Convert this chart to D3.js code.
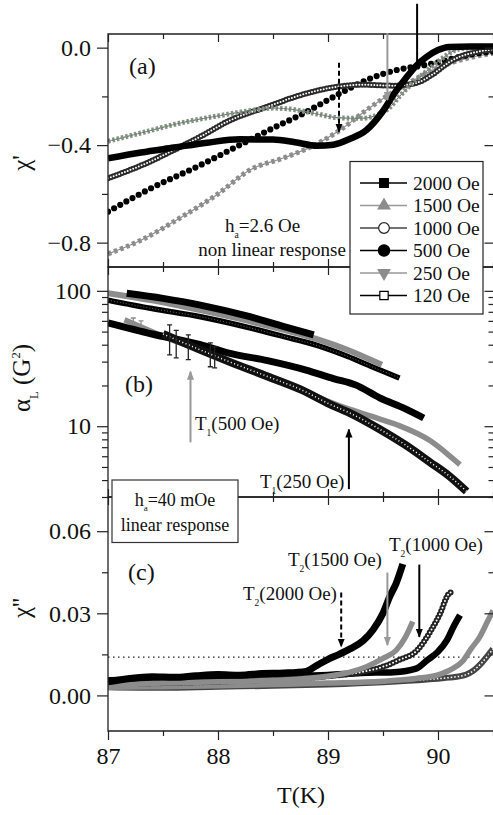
<!DOCTYPE html>
<html><head><meta charset="utf-8">
<script src="https://cdn.jsdelivr.net/npm/d3@7"></script>
<style>
body{margin:0;background:#fff}
svg{display:block}
text{font-family:"Liberation Serif","Times New Roman",serif;fill:#111}
</style>
</head><body>
<svg id="chart" width="493" height="815"></svg>
<script>
// ---------------- DATA ----------------
const fields = ["2000 Oe", "1500 Oe", "1000 Oe", "500 Oe", "250 Oe", "120 Oe"];
const xTicks = [87, 88, 89, 90];
const xMinor = [87.5, 88.5, 89.5, 90.5];
const aTicks = [0, -0.4, -0.8];
const aMinor = [-0.2, -0.6];
const bTicks = [10, 100];
const bMinor = [3, 4, 5, 6, 7, 8, 9, 20, 30, 40, 50, 60, 70, 80, 90];
const cTicks = [0, 0.03, 0.06];
const cMinor = [0.015, 0.045];

// Panel (a): chi' vs T
const aT2000 = [87, 87.3, 87.6, 87.9, 88.2, 88.5, 88.7, 88.9, 89.05, 89.2, 89.35, 89.5, 89.6, 89.7, 89.8, 89.9, 90.0, 90.1, 90.3, 90.5];
const aV2000 = [-0.454, -0.43, -0.41, -0.39, -0.376, -0.377, -0.388, -0.402, -0.398, -0.374, -0.338, -0.26, -0.19, -0.13, -0.075, -0.037, -0.01, 0.003, 0.005, 0.005];
const aT1500 = [87, 87.3, 87.65, 88.0, 88.3, 88.5, 88.7, 88.9, 89.1, 89.3, 89.45, 89.55, 89.65, 89.75, 89.9, 90.02, 90.2, 90.5];
const aV1500 = [-0.384, -0.35, -0.31, -0.28, -0.258, -0.248, -0.255, -0.272, -0.288, -0.29, -0.276, -0.25, -0.2, -0.153, -0.095, -0.05, -0.005, 0.003];
const aT1000 = [87, 87.35, 87.6, 87.84, 88.1, 88.45, 88.75, 89.05, 89.3, 89.6, 89.8, 89.95, 90.1, 90.2, 90.35, 90.5];
const aV1000 = [-0.536, -0.474, -0.42, -0.365, -0.3, -0.242, -0.195, -0.163, -0.152, -0.156, -0.145, -0.11, -0.06, -0.037, -0.018, -0.007];
const aT500 = [87, 87.4, 87.84, 88.23, 88.5, 88.75, 89.1, 89.35, 89.65, 89.84, 90.0, 90.14, 90.3, 90.5];
const aV500 = [-0.673, -0.575, -0.482, -0.392, -0.33, -0.276, -0.19, -0.133, -0.089, -0.075, -0.06, -0.044, -0.028, -0.016];
const aT250 = [87, 87.3, 87.65, 88.0, 88.29, 88.6, 88.85, 89.11, 89.35, 89.53, 89.78, 90.02, 90.26, 90.5];
const aV250 = [-0.846, -0.79, -0.70, -0.6, -0.502, -0.452, -0.406, -0.338, -0.256, -0.2, -0.133, -0.078, -0.044, -0.023];

// Panel (b): alpha_L (G^2) vs T, log scale
const bT2000 = [87.17, 87.5, 87.84, 88.29, 88.6, 88.87];
const bV2000 = [96, 88, 78.5, 64.4, 54.4, 47.2];
const bT1500 = [87, 87.4, 87.84, 88.2, 88.6, 88.9, 89.18, 89.49];
const bV1500 = [96, 85, 72, 62, 51.4, 44, 36.6, 28.4];
const bT1000 = [87, 87.4, 87.84, 88.2, 88.6, 88.9, 89.18, 89.4, 89.65];
const bV1000 = [85.4, 74, 64.4, 55.5, 45.9, 39.5, 32.7, 27.5, 22.7];
const bT500 = [87, 87.4, 87.84, 88.08, 88.45, 88.8, 89.05, 89.25, 89.47, 89.7, 89.87];
const bV500 = [58, 48, 40, 35, 30.5, 26, 22.5, 20.2, 16.2, 13.5, 11.5];
const bT250 = [87.15, 87.35, 87.53, 87.84, 88.2, 88.5, 88.8, 89.0, 89.2, 89.4, 89.62, 89.93, 90.1, 90.2];
const bV250 = [61, 52, 45, 36.5, 28, 23, 18, 15.3, 13.3, 11.8, 10.3, 7.8, 6.1, 5.2];
const bT120 = [87.5, 87.84, 88.1, 88.45, 88.75, 89.02, 89.2, 89.47, 89.7, 89.93, 90.1, 90.26];
const bV120 = [48, 36.6, 30, 23.3, 18.7, 14.5, 12.5, 9.5, 7.3, 5.4, 4.3, 3.3];
// error bars (b)
const bErrT120 = [87.56, 87.62, 87.73, 87.93, 87.97];
const bErrLo120 = [33.6, 32, 31, 27.5, 27];
const bErrHi120 = [56, 51, 47.3, 41.3, 38.5];
const bErrT250 = [87.23, 87.3];
const bErrLo250 = [51, 49];
const bErrHi250 = [63, 60];

// Panel (c): chi'' vs T
const cT2000 = [87, 87.2, 87.4, 87.6, 87.8, 88.0, 88.2, 88.4, 88.6, 88.8, 88.9, 89.0, 89.1, 89.2, 89.32, 89.41, 89.5, 89.56, 89.62, 89.68];
const cV2000 = [0.005, 0.0062, 0.0068, 0.0066, 0.0072, 0.0076, 0.0074, 0.008, 0.0082, 0.0088, 0.011, 0.0132, 0.015, 0.017, 0.020, 0.024, 0.030, 0.036, 0.041, 0.048];
const cT1500 = [87, 87.5, 88, 88.5, 89, 89.2, 89.35, 89.5, 89.62, 89.7, 89.77];
const cV1500 = [0.0035, 0.0045, 0.005, 0.0055, 0.007, 0.0085, 0.0105, 0.0135, 0.0165, 0.021, 0.027];
const cT1000 = [87, 87.5, 88, 88.5, 89, 89.3, 89.5, 89.65, 89.81, 89.93, 90.02, 90.09, 90.13];
const cV1000 = [0.004, 0.0045, 0.005, 0.0058, 0.007, 0.0085, 0.0105, 0.013, 0.0165, 0.0233, 0.030, 0.0367, 0.038];
const cT500 = [87, 87.5, 88, 88.5, 89, 89.3, 89.6, 89.8, 89.9, 90.0, 90.08, 90.14, 90.2];
const cV500 = [0.0055, 0.006, 0.0065, 0.007, 0.0075, 0.0082, 0.0085, 0.0098, 0.0128, 0.016, 0.0201, 0.025, 0.0293];
const cT250 = [87, 87.5, 88, 88.5, 89, 89.5, 89.8, 90.0, 90.12, 90.23, 90.3, 90.38, 90.45, 90.5];
const cV250 = [0.003, 0.0032, 0.0035, 0.004, 0.0045, 0.0052, 0.0062, 0.0075, 0.0095, 0.0128, 0.017, 0.0214, 0.027, 0.031];
const cT120 = [87, 87.5, 88, 88.5, 89, 89.5, 89.9, 90.1, 90.25, 90.32, 90.4, 90.5];
const cV120 = [0.003, 0.0028, 0.0032, 0.0035, 0.004, 0.0048, 0.0058, 0.0065, 0.0075, 0.009, 0.012, 0.017];
const cThreshold = 0.014;

// ---------------- CHART ----------------
const svg = d3.select("#chart");
svg.append("rect").attr("width", 493).attr("height", 815).attr("fill", "#fff");
const FONT = '"Liberation Serif","Times New Roman",serif';
const GRAY = "#8c8c8c";

const x = d3.scaleLinear().domain([87, 90.5]).range([108, 493]);
const yA = d3.scaleLinear().domain([-0.9, 0.056]).range([267, 34]);
const yB = d3.scaleLog().domain([3, 150]).range([497, 267]);
const yC = d3.scaleLinear().domain([-0.013, 0.0725]).range([731, 497]);
const XL = 108, XR = 494.5;

const defs = svg.append("defs");
function clip(id, y0, y1) {
  defs.append("clipPath").attr("id", id).append("rect")
    .attr("x", XL).attr("y", y0).attr("width", XR - XL).attr("height", y1 - y0);
}
clip("clipA", 34, 267); clip("clipB", 267, 497); clip("clipC", 497, 731);
function arrowDef(id, color) {
  defs.append("marker").attr("id", id).attr("viewBox", "0 0 10 8")
    .attr("refX", 9).attr("refY", 4).attr("markerWidth", 9).attr("markerHeight", 7.5)
    .attr("markerUnits", "userSpaceOnUse").attr("orient", "auto")
    .append("path").attr("d", "M0,0 L10,4 L0,8 Z").attr("fill", color);
}
arrowDef("ahBlack", "#000"); arrowDef("ahGray", "#999");

function zip(ts, vs) { return ts.map((t, i) => [t, vs[i]]); }
function drawSeries(g, y, pts, layers) {
  const line = d3.line().x(d => x(d[0])).y(d => y(d[1])).curve(d3.curveMonotoneX);
  layers.forEach(l => {
    g.append("path").attr("d", line(pts)).attr("fill", "none")
      .attr("stroke", l.c).attr("stroke-width", l.w)
      .attr("stroke-dasharray", l.dash || null)
      .attr("stroke-linecap", l.cap || "butt")
      .attr("stroke-linejoin", "round");
  });
}

function axes(y, ticks, minor, fmt, top, bottom, last) {
  const g = svg.append("g");
  const st = sel => { sel.select(".domain").remove(); sel.selectAll("line").attr("stroke", "#222").attr("stroke-width", 1.2);
    sel.selectAll("text").attr("font-family", FONT).attr("font-size", 24).attr("fill", "#111"); };
  g.append("g").attr("transform", `translate(${XL},0)`)
    .call(d3.axisLeft(y).tickValues(ticks).tickSize(11).tickPadding(6).tickFormat(fmt)).call(st);
  g.append("g").attr("transform", `translate(${XL},0)`)
    .call(d3.axisLeft(y).tickValues(minor).tickSize(6).tickFormat("")).call(st);
  g.append("g").attr("transform", `translate(${XR},0)`)
    .call(d3.axisRight(y).tickValues(ticks).tickSize(-10).tickFormat("")).call(st);
  g.append("g").attr("transform", `translate(${XR},0)`)
    .call(d3.axisRight(y).tickValues(minor).tickSize(-6).tickFormat("")).call(st);
  g.append("g").attr("transform", `translate(0,${top})`)
    .call(d3.axisBottom(x).tickValues(xTicks).tickSize(8).tickFormat("")).call(st);
  g.append("g").attr("transform", `translate(0,${top})`)
    .call(d3.axisBottom(x).tickValues(xMinor).tickSize(5).tickFormat("")).call(st);
  if (last) {
    g.append("g").attr("transform", `translate(0,${bottom})`)
      .call(d3.axisBottom(x).tickValues(xTicks).tickSize(9).tickPadding(7).tickFormat(d3.format("d"))).call(st);
    g.append("g").attr("transform", `translate(0,${bottom})`)
      .call(d3.axisBottom(x).tickValues(xMinor).tickSize(5).tickFormat("")).call(st);
  } else {
    g.append("g").attr("transform", `translate(0,${bottom})`)
      .call(d3.axisTop(x).tickValues(xTicks).tickSize(8).tickFormat("")).call(st);
    g.append("g").attr("transform", `translate(0,${bottom})`)
      .call(d3.axisTop(x).tickValues(xMinor).tickSize(5).tickFormat("")).call(st);
  }
  g.append("path").attr("d", `M${XR},${top}H${XL}V${bottom}H${XR}`)
    .attr("fill", "none").attr("stroke", "#222").attr("stroke-width", 1.3);
}

function richText(g, xx, yy, parts, size, color, anchor) {
  const t = g.append("text").attr("x", xx).attr("y", yy).attr("font-size", size)
    .attr("fill", color || "#111").attr("text-anchor", anchor || "start").attr("font-family", FONT);
  let shift = 0;
  parts.forEach(p => {
    const [s, kind] = Array.isArray(p) ? p : [p, "n"];
    let target = kind === "sub" ? size * 0.3 : kind === "sup" ? -size * 0.4 : 0;
    const ts = t.append("tspan").text(s).attr("dy", target - shift);
    if (kind !== "n") ts.attr("font-size", size * 0.5);
    shift = target;
  });
  return t;
}
function vArrow(g, y, T, from, to, kind) {
  const col = kind === "gray" ? "#999" : "#000";
  const l = g.append("line").attr("x1", x(T)).attr("x2", x(T)).attr("y1", y(from)).attr("y2", y(to))
    .attr("stroke", col).attr("stroke-width", 2);
  if (kind === "dash") l.attr("stroke-dasharray", "5 3");
  if (kind !== "plain") l.attr("marker-end", `url(#${kind === "gray" ? "ahGray" : "ahBlack"})`);
}

// ---------- Panel (a) ----------
const gA = svg.append("g").attr("clip-path", "url(#clipA)");
drawSeries(gA, yA, zip(aT250, aV250), [{c: GRAY, w: 1.2}, {c: GRAY, w: 5, dash: "3.5 3"}]);
drawSeries(gA, yA, zip(aT500, aV500), [{c: "#000", w: 6.2, dash: "0 7", cap: "round"}]);
drawSeries(gA, yA, zip(aT1000, aV1000), [{c: "#2a2a2a", w: 6, dash: "0 3", cap: "round"}, {c: "#fff", w: 2, dash: "0 3", cap: "round"}]);
drawSeries(gA, yA, zip(aT1500, aV1500), [{c: GRAY, w: 1}, {c: GRAY, w: 5, dash: "2.5 2"}, {c: "#2e8b2e", w: 0.8, dash: "2 2"}]);
drawSeries(gA, yA, zip(aT2000, aV2000), [{c: "#000", w: 6.5}]);
axes(yA, aTicks, aMinor, d3.format(".1f"), 34, 267, false);
const annA = svg.append("g");
vArrow(annA, yA, 89.1, -0.062, -0.345, "dash");
vArrow(annA, yA, 89.54, 0.06, -0.215, "gray");
vArrow(annA, yA, 89.81, 0.18, -0.065, "plain");
richText(annA, 129, 74, ["(a)"], 24);
richText(annA, 225, 232, ["h", ["a", "sub"], "=2.6 Oe"], 19);
richText(annA, 272, 256, ["non linear response"], 19, null, "middle");

// ---------- Panel (b) ----------
const gB = svg.append("g").attr("clip-path", "url(#clipB)");
function errBars(g, ts, lo, hi, col) {
  ts.forEach((t, i) => {
    const xx = x(t);
    g.append("path").attr("d", `M${xx},${yB(lo[i])}V${yB(hi[i])}M${xx - 2.5},${yB(hi[i])}H${xx + 2.5}M${xx - 2.5},${yB(lo[i])}H${xx + 2.5}`)
      .attr("stroke", col).attr("stroke-width", 1.3).attr("fill", "none");
  });
}
errBars(gB, bErrT250, bErrLo250, bErrHi250, GRAY);
drawSeries(gB, yB, zip(bT250, bV250), [{c: GRAY, w: 5.5}]);
drawSeries(gB, yB, zip(bT500, bV500), [{c: "#000", w: 7}]);
drawSeries(gB, yB, zip(bT120, bV120), [{c: "#111", w: 8}, {c: "#fff", w: 1.5, dash: "1 2.5"}]);
errBars(gB, bErrT120, bErrLo120, bErrHi120, "#222");
drawSeries(gB, yB, zip(bT1000, bV1000), [{c: "#000", w: 5.5}, {c: "#666", w: 1, dash: "1 2"}]);
drawSeries(gB, yB, zip(bT1500, bV1500), [{c: GRAY, w: 6}]);
drawSeries(gB, yB, zip(bT2000, bV2000), [{c: "#000", w: 7}]);
axes(yB, bTicks, bMinor, d3.format("d"), 267, 497, false);
const annB = svg.append("g");
vArrow(annB, yB, 87.75, 7.6, 25.3, "gray");
vArrow(annB, yB, 89.19, 3.43, 9.46, "black");
richText(annB, 125, 392, ["(b)"], 24);
richText(annB, 195, 430, ["T", ["1", "sub"], "(500 Oe)"], 19, "#999");
richText(annB, 260, 488, ["T", ["1", "sub"], "(250 Oe)"], 19);

// ---------- Panel (c) ----------
const gC = svg.append("g").attr("clip-path", "url(#clipC)");
gC.append("line").attr("x1", XL).attr("x2", XR).attr("y1", yC(cThreshold)).attr("y2", yC(cThreshold))
  .attr("stroke", "#222").attr("stroke-width", 1.2).attr("stroke-dasharray", "1.5 3.5");
drawSeries(gC, yC, zip(cT120, cV120), [{c: "#444", w: 6}, {c: "#fff", w: 1.5, dash: "1.5 2"}]);
drawSeries(gC, yC, zip(cT250, cV250), [{c: GRAY, w: 5.5}]);
drawSeries(gC, yC, zip(cT500, cV500), [{c: "#000", w: 6.5}]);
drawSeries(gC, yC, zip(cT1000, cV1000), [{c: "#222", w: 6, dash: "0 3.5", cap: "round"}, {c: "#fff", w: 2, dash: "0 3.5", cap: "round"}]);
drawSeries(gC, yC, zip(cT1500, cV1500), [{c: GRAY, w: 5.5}]);
drawSeries(gC, yC, zip(cT2000, cV2000), [{c: "#000", w: 7}]);
axes(yC, cTicks, cMinor, d3.format(".2f"), 497, 731, true);
const annC = svg.append("g");
vArrow(annC, yC, 89.12, 0.0376, 0.0178, "dash");
vArrow(annC, yC, 89.54, 0.0449, 0.0184, "gray");
vArrow(annC, yC, 89.83, 0.0478, 0.0214, "black");
richText(annC, 128, 580, ["(c)"], 24);
richText(annC, 243, 600, ["T", ["2", "sub"], "(2000 Oe)"], 19);
richText(annC, 288, 566, ["T", ["2", "sub"], "(1500 Oe)"], 19, "#999");
richText(annC, 389, 551, ["T", ["2", "sub"], "(1000 Oe)"], 19);

// ---------- Boxes ----------
const boxB = svg.append("g");
boxB.append("rect").attr("x", 112).attr("y", 480).attr("width", 126).attr("height", 62.5)
  .attr("fill", "#fff").attr("stroke", "#333").attr("stroke-width", 1.2);
richText(boxB, 175, 506, ["h", ["a", "sub"], "=40 mOe"], 18, null, "middle");
richText(boxB, 175, 531, ["linear response"], 18, null, "middle");

// Legend
const leg = svg.append("g");
leg.append("rect").attr("x", 350).attr("y", 161.5).attr("width", 133).attr("height", 152.5)
  .attr("fill", "#fff").attr("stroke", "#222").attr("stroke-width", 1.2);
const legStyle = {
  "2000 Oe": {line: "#000", sym: d3.symbolSquare, size: 75, fill: "#000", stroke: "#000"},
  "1500 Oe": {line: "#999", sym: d3.symbolTriangle, size: 60, fill: GRAY, stroke: GRAY},
  "1000 Oe": {line: "#444", sym: d3.symbolCircle, size: 90, fill: "#fff", stroke: "#222"},
  "500 Oe": {line: "#000", sym: d3.symbolCircle, size: 100, fill: "#000", stroke: "#000"},
  "250 Oe": {line: "#999", sym: d3.symbolTriangle, size: 60, fill: GRAY, stroke: GRAY, rot: 180},
  "120 Oe": {line: "#000", sym: d3.symbolSquare, size: 70, fill: "#fff", stroke: "#000"}
};
fields.forEach((f, i) => {
  const yy = 183 + i * 22.5, s = legStyle[f];
  leg.append("line").attr("x1", 360).attr("x2", 407).attr("y1", yy).attr("y2", yy)
    .attr("stroke", s.line).attr("stroke-width", 1.3);
  leg.append("path").attr("d", d3.symbol().type(s.sym).size(s.size)())
    .attr("transform", `translate(384,${yy}) rotate(${s.rot || 0})`)
    .attr("fill", s.fill).attr("stroke", s.stroke).attr("stroke-width", 1.2);
  leg.append("text").attr("x", 413).attr("y", yy + 6.5).attr("font-size", 19.5)
    .attr("font-family", FONT).attr("fill", "#111").text(f);
});

// ---------- Axis titles ----------
svg.append("text").attr("x", 301).attr("y", 803).attr("text-anchor", "middle")
  .attr("font-size", 24).attr("font-family", FONT).text("T(K)");
function yTitle(cy, parts) {
  const g = svg.append("g").attr("transform", `translate(30,${cy}) rotate(-90)`);
  richText(g, 0, 0, parts, 25, null, "middle");
}
yTitle(163, ["χ'"]);
yTitle(378, ["α", ["L", "sub"], " (G", ["2", "sup"], ")"]);
yTitle(608, ["χ''"]);
</script>
</body></html>
